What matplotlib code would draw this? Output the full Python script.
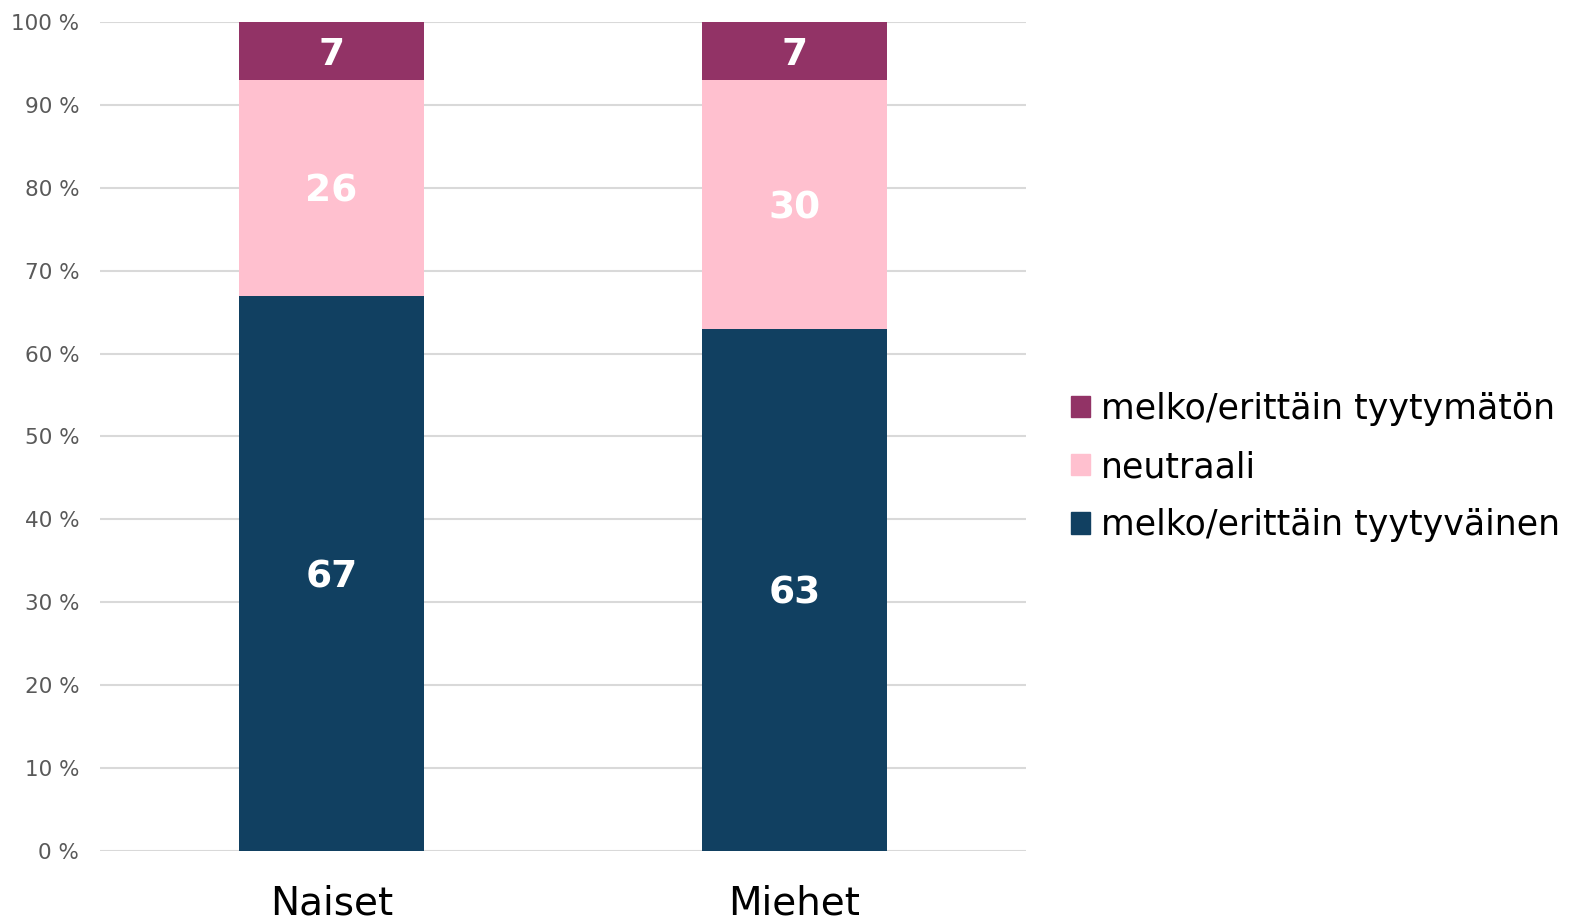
import matplotlib
matplotlib.use("Agg")
import matplotlib.pyplot as plt
from matplotlib.patches import Patch
import matplotlib.transforms as mtransforms
import numpy as np

categories = ["Naiset", "Miehet"]
series_names = ["melko/erittäin tyytyväinen", "neutraali", "melko/erittäin tyytymätön"]
tyytyvainen = [67, 63]
neutraali = [26, 30]
tyytymaton = [7, 7]
yticks = [0, 10, 20, 30, 40, 50, 60, 70, 80, 90, 100]
ytick_labels = [f"{v} %" for v in yticks]

colors = ["#114061", "#FFC0CF", "#923366"]
font = "DejaVu Sans"

fig = plt.figure(figsize=(15.9, 9.21), dpi=100)
ax = fig.add_axes([100/1590, 1-851/921, 926/1590, (851-22)/921])

x = np.arange(len(categories))
bottom = np.zeros(len(categories))
off = mtransforms.offset_copy(ax.transData, fig=fig, x=0, y=-4, units="dots")
for vals, col in zip([tyytyvainen, neutraali, tyytymaton], colors):
    vals = np.array(vals, dtype=float)
    ax.bar(x, vals, 0.4, bottom=bottom, color=col, zorder=3)
    for xi, b, v in zip(x, bottom, vals):
        ax.text(xi, b + v/2, f"{int(v)}", ha="center", va="center", color="white",
                fontsize=27, fontweight="bold", family=font, zorder=4, transform=off)
    bottom += vals

ax.set_xlim(-0.5, 1.5)
ax.set_ylim(0, 100)
ax.set_yticks(yticks)
ax.set_yticklabels(ytick_labels, fontsize=15.5, color="#595959", family=font)
ax.set_xticks(x)
ax.set_xticklabels(categories, fontsize=28, color="black", family=font)
ax.tick_params(axis="both", length=0)
ax.tick_params(axis="y", pad=15)
ax.tick_params(axis="x", pad=24)
ax.yaxis.grid(True, color="#D9D9D9", linewidth=1.5, zorder=0)
for s in ax.spines.values():
    s.set_visible(False)

handles = [Patch(color=c) for c in colors][::-1]
labels = series_names[::-1]
fig.legend(handles, labels, loc="center left", bbox_to_anchor=(1071/1590, 1-467/921),
           frameon=False, prop={"family": font, "size": 25}, handlelength=0.56,
           handleheight=0.56, handletextpad=0.3, labelspacing=0.7, borderaxespad=0,
           borderpad=0)

fig.savefig("out.png", dpi=100)
